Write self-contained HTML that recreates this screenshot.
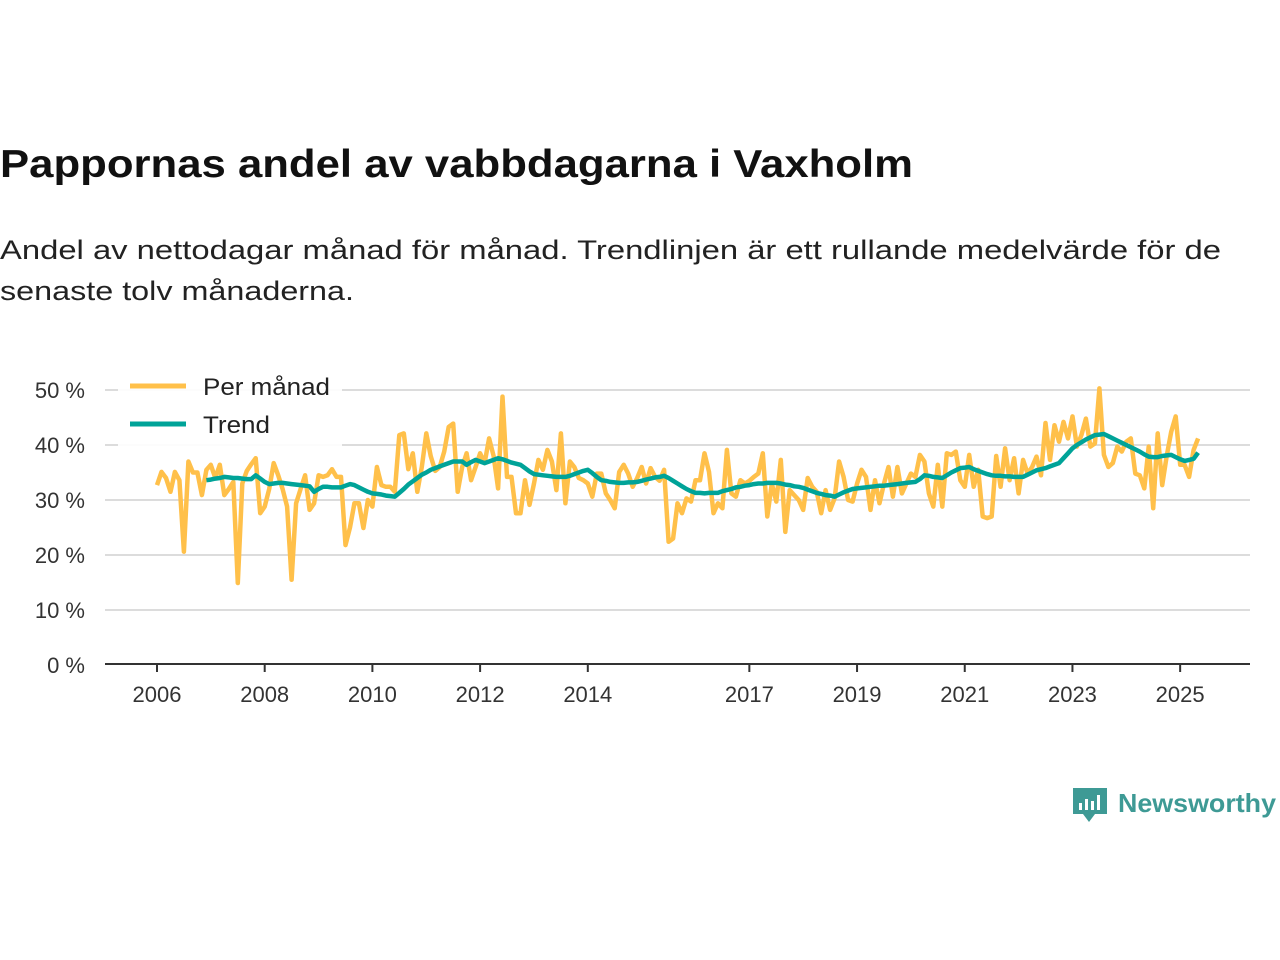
<!DOCTYPE html>
<html><head><meta charset="utf-8">
<style>
html,body{margin:0;padding:0;background:#fff;}
svg{display:block;font-family:"Liberation Sans","DejaVu Sans",sans-serif;}
</style></head>
<body>
<svg id="chart" width="1280" height="960" viewBox="0 0 1280 960">
  <text x="0" y="177" font-size="39" font-weight="bold" fill="#111" textLength="913" lengthAdjust="spacingAndGlyphs">Pappornas andel av vabbdagarna i Vaxholm</text>
  <text x="0" y="259" font-size="27" fill="#222" textLength="1221" lengthAdjust="spacingAndGlyphs">Andel av nettodagar månad för månad. Trendlinjen är ett rullande medelvärde för de</text>
  <text x="0" y="300" font-size="27" fill="#222" textLength="354" lengthAdjust="spacingAndGlyphs">senaste tolv månaderna.</text>
  <g id="grid"></g>
  <g id="yticks"></g>
  <g id="xticks"></g>
  <g id="series"></g>
  <g>
    <rect x="118" y="368" width="224" height="78" fill="#fff" opacity="0.9"/>
    <line x1="130" y1="386" x2="186" y2="386" stroke="#FFC04A" stroke-width="5"/>
    <text x="203" y="395" font-size="24" fill="#222" textLength="127" lengthAdjust="spacingAndGlyphs">Per månad</text>
    <line x1="130" y1="424" x2="186" y2="424" stroke="#00A398" stroke-width="5"/>
    <text x="203" y="433" font-size="24" fill="#222" textLength="67" lengthAdjust="spacingAndGlyphs">Trend</text>
  </g>
  <g>
    <path d="M1073 788 h34 v26 h-12 l-6 8 l-6 -8 h-10 z" fill="#3e9a95"/>
    <rect x="1079" y="803" width="3" height="7" fill="#fff"/>
    <rect x="1085" y="799" width="3" height="11" fill="#fff"/>
    <rect x="1091" y="801" width="3" height="9" fill="#fff"/>
    <rect x="1097" y="795" width="3" height="15" fill="#fff"/>
    <text x="1118" y="812" font-size="26" font-weight="bold" fill="#3e9a95" textLength="158" lengthAdjust="spacingAndGlyphs">Newsworthy</text>
  </g>
</svg>
<script>
// ---- data ----
const startYear = 2006; // first month = Jan 2006
const yTickValues = [0, 10, 20, 30, 40, 50];
const yTickLabels = ["0 %", "10 %", "20 %", "30 %", "40 %", "50 %"];
const xTickYears = [2006, 2008, 2010, 2012, 2014, 2017, 2019, 2021, 2023, 2025];
const xTickLabels = ["2006", "2008", "2010", "2012", "2014", "2017", "2019", "2021", "2023", "2025"];
const monthlyValues = [
32.7,35.1,34,31.5,35.1,33.6,20.6,37,35,35,30.9,35.5,
36.4,34,36.4,30.9,32,33.3,14.9,33,35.3,36.5,37.6,27.6,
28.8,32,36.7,34.5,32,28.8,15.5,29.4,32,34.5,28.2,29.4,
34.5,34.2,34.5,35.6,34.2,34.2,21.8,25,29.4,29.4,24.9,30,
28.8,36,32.7,32.4,32.4,31.5,41.8,42.1,35.6,38.5,31.5,36,
42.1,38,35.3,36,38.8,43.3,43.9,31.5,36,38.5,33.6,36,
38.5,36.7,41.2,38,32.1,48.8,34.2,34.2,27.6,27.6,33.6,29.1,
33,37.3,35.5,39.1,37,31.8,42.1,29.4,37,36,34,33.6,
33,30.6,34.8,34.8,31.2,30,28.5,35.1,36.4,34.8,32.4,34,
36,33,35.8,34.2,33.5,35.5,22.4,23,29.4,27.6,30.3,29.7,
33.6,33.6,38.5,35.1,27.6,29.4,28.5,39.1,31.2,30.6,33.6,33,
33.5,34.2,34.8,38.5,27,33,29.7,37.3,24.2,31.8,30.9,30,
28.2,34,32.4,31.5,27.6,31.8,28.2,30.3,37,34.2,30,29.7,
33,35.5,34.2,28.2,33.6,29.4,33,36,30.6,36,31.2,33,
34.8,34.2,38.2,37,31.2,28.8,36.4,28.8,38.5,38.2,38.8,33.6,
32.4,38.2,32.4,35.5,27,26.7,27,38,32.4,39.4,33.6,37.6,
31.2,37.3,34.8,36,37.9,34.5,44,37.3,43.6,40.6,44.2,41.2,
45.2,39.7,41.8,44.8,39.7,40.3,50.3,38.2,36,36.7,39.7,38.8,
40.6,41.2,34.8,34.5,32.1,39.7,28.5,42.1,32.7,38,42.4,45.2,
36.4,36.4,34.2,39.1,41.2
];
const trendStartMonth = 11; // Dec 2006
const trendValues = [
33.6,33.7,33.9,34.0,34.2,34.1,34.0,34.0,33.9,33.8,
33.8,34.5,33.9,33.3,32.9,33.0,33.1,33.1,33.0,32.9,
32.8,32.7,32.6,32.5,31.5,32.0,32.4,32.4,32.3,32.3,
32.3,32.6,32.9,32.7,32.3,31.9,31.5,31.2,31.1,31.0,
30.8,30.7,30.6,31.3,32.0,32.8,33.4,34.0,34.6,35.0,
35.5,35.8,36.1,36.4,36.7,37.0,37.0,37.0,36.4,36.9,
37.3,37.0,36.7,37.0,37.3,37.6,37.4,37.1,36.8,36.6,
36.4,35.8,35.2,34.7,34.6,34.5,34.4,34.3,34.2,34.2,
34.2,34.4,34.7,35.0,35.3,35.5,34.9,34.2,33.6,33.5,
33.3,33.2,33.1,33.1,33.2,33.2,33.3,33.5,33.7,33.9,
34.1,34.2,34.4,34.0,33.5,33.0,32.5,32.0,31.6,31.3,
31.3,31.2,31.3,31.3,31.3,31.6,31.8,32.0,32.3,32.4,
32.6,32.7,32.9,33.0,33.0,33.1,33.1,33.1,33.0,32.8,
32.7,32.5,32.4,32.2,31.9,31.6,31.3,31.1,30.9,30.8,
30.6,31.0,31.4,31.7,32.0,32.1,32.2,32.3,32.4,32.5,
32.6,32.6,32.7,32.8,32.9,33.0,33.1,33.2,33.3,33.8,
34.5,34.4,34.2,34.1,34.0,34.5,35.0,35.4,35.8,35.9,
36.0,35.6,35.3,35.0,34.7,34.5,34.4,34.4,34.3,34.3,
34.2,34.2,34.2,34.6,35.0,35.4,35.6,35.8,36.1,36.4,
36.7,37.6,38.5,39.4,40.0,40.5,41.0,41.4,41.8,41.9,
42.0,41.6,41.2,40.8,40.4,40.0,39.6,39.2,38.8,38.3,
37.9,37.8,37.8,38.0,38.1,38.2,37.8,37.4,37.1,37.3,
37.5,38.6
];

// ---- scales ----
const NS = "http://www.w3.org/2000/svg";
const plotLeft = 105, plotRight = 1250;
function xMonth(m){ return 157 + (m/12) * 53.85; }
function xYear(y){ return xMonth((y - startYear) * 12); }
function yVal(v){ return 665 - v * 5.5; }

const grid = document.getElementById('grid');
const yt = document.getElementById('yticks');
yTickValues.forEach((v, i) => {
  if (v !== 0) {
    const l = document.createElementNS(NS, 'line');
    
    
    l.setAttribute('x1', plotLeft); l.setAttribute('x2', plotRight);
    l.setAttribute('y1', yVal(v)); l.setAttribute('y2', yVal(v));
    l.setAttribute('stroke', '#dcdcdc'); l.setAttribute('stroke-width', '2');
    grid.appendChild(l);
  }
  const t = document.createElementNS(NS, 'text');
  
  
  t.setAttribute('x', 85); t.setAttribute('y', yVal(v) + 8);
  t.setAttribute('text-anchor', 'end'); t.setAttribute('font-size', '22'); t.setAttribute('fill', '#333');
  t.textContent = yTickLabels[i];
  yt.appendChild(t);
});

const xt = document.getElementById('xticks');
const base = document.createElementNS(NS, 'line');


base.setAttribute('x1', plotLeft); base.setAttribute('x2', plotRight);
base.setAttribute('y1', 664); base.setAttribute('y2', 664);
base.setAttribute('stroke', '#333'); base.setAttribute('stroke-width', '2');
xt.appendChild(base);
xTickYears.forEach((yr, i) => {
  const x = xYear(yr);
  const tk = document.createElementNS(NS, 'line');
  
  
  tk.setAttribute('x1', x); tk.setAttribute('x2', x);
  tk.setAttribute('y1', 664); tk.setAttribute('y2', 672);
  tk.setAttribute('stroke', '#333'); tk.setAttribute('stroke-width', '2');
  xt.appendChild(tk);
  const t = document.createElementNS(NS, 'text');
  
  
  t.setAttribute('x', x); t.setAttribute('y', 702);
  t.setAttribute('text-anchor', 'middle'); t.setAttribute('font-size', '22'); t.setAttribute('fill', '#333');
  t.textContent = xTickLabels[i];
  xt.appendChild(t);
});

const series = document.getElementById('series');
function drawLine(vals, startM, color, name){
  const pts = vals.map((v, i) => xMonth(startM + i).toFixed(1) + ',' + yVal(v).toFixed(1)).join(' ');
  const pl = document.createElementNS(NS, 'polyline');
  
  
  pl.setAttribute('points', pts);
  pl.setAttribute('fill', 'none'); pl.setAttribute('stroke', color);
  pl.setAttribute('stroke-width', '4.5'); pl.setAttribute('stroke-linejoin', 'round');
  series.appendChild(pl);
}
drawLine(monthlyValues, 0, '#FFC04A', 'monthly-line');
drawLine(trendValues, trendStartMonth, '#00A398', 'trend-line');
</script>
</body></html>
